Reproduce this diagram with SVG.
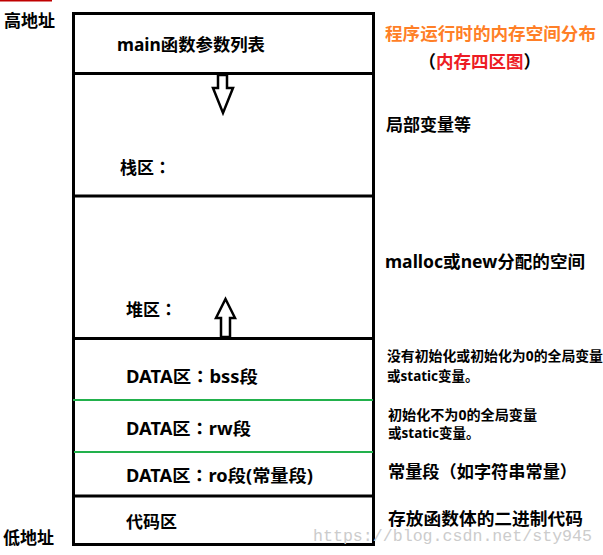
<svg xmlns="http://www.w3.org/2000/svg" width="603" height="555" viewBox="0 0 603 555">
<style>
.t{font-family:"Noto Sans","Noto Sans CJK SC",sans-serif;font-weight:bold;fill:#000;}
.l{font-size:17px;}
.s{font-size:13.5px;}
.c{font-family:"Noto Sans CJK TC","Noto Sans CJK SC",sans-serif;}
.blk{stroke:#000;stroke-width:3;fill:none;}
.grn{stroke:#22b14c;stroke-width:2;fill:none;}
.arr{fill:#fff;stroke:#000;stroke-width:2.5;stroke-linejoin:miter;}
</style>
<rect width="603" height="555" fill="#fff"/>
<rect x="0" y="0" width="52" height="1.5" fill="#c00000"/>
<g id="labels-address">
<text class="t l" x="4" y="27">高地址</text>
<text class="t l" x="3" y="544">低地址</text>
</g>
<g id="frame">
<rect class="blk" x="73.5" y="13.5" width="300" height="531"/>
</g>
<g id="node-main">
<text class="t l" x="117" y="51" textLength="148" lengthAdjust="spacingAndGlyphs">main函数参数列表</text>
</g>
<g id="node-stack">
<line class="blk" x1="73.5" y1="73.5" x2="373.5" y2="73.5"/>
<text class="t l" x="120" y="174">栈区<tspan class="c">：</tspan></text>
</g>
<g id="node-heap">
<line class="blk" x1="73.5" y1="196" x2="373.5" y2="196"/>
<text class="t l" x="126" y="316">堆区<tspan class="c">：</tspan></text>
</g>
<g id="node-bss">
<line class="blk" x1="73.5" y1="338.5" x2="373.5" y2="338.5"/>
<text class="t l" x="126" y="383" textLength="132" lengthAdjust="spacingAndGlyphs">DATA区<tspan class="c">：</tspan>bss段</text>
</g>
<g id="node-rw">
<line class="grn" x1="73" y1="400" x2="373" y2="400"/>
<text class="t l" x="126" y="435" textLength="125" lengthAdjust="spacingAndGlyphs">DATA区<tspan class="c">：</tspan>rw段</text>
</g>
<g id="node-ro">
<line class="grn" x1="74" y1="452" x2="373" y2="452"/>
<text class="t l" x="126" y="482" textLength="187" lengthAdjust="spacingAndGlyphs">DATA区<tspan class="c">：</tspan>ro段(常量段)</text>
</g>
<g id="node-code">
<line class="blk" x1="73.5" y1="496" x2="373.5" y2="496"/>
<text class="t l" x="126" y="528">代码区</text>
</g>
<g id="connectors">
<polygon class="arr" points="218,75 227,75 227,88 233,88 223,113 213,88 218,88"/>
<polygon class="arr" points="221,337 230,337 230,318 235,318 225.5,299 216,318 221,318"/>
</g>
<g id="notes">
<text class="t" style="font-size:17.5px;fill:#ff7f27" x="385" y="40" textLength="211" lengthAdjust="spacingAndGlyphs">程序运行时的内存空间分布</text>
<text class="t" style="font-size:17.5px" x="418.5" y="68"><tspan class="c">（</tspan><tspan fill="#ed1c24">内存四区图</tspan><tspan class="c">）</tspan></text>
<text class="t l" x="386" y="131">局部变量等</text>
<text class="t l" x="385" y="268" textLength="200" lengthAdjust="spacingAndGlyphs">malloc或new分配的空间</text>
<text class="t s" x="387" y="360.5" textLength="216" lengthAdjust="spacingAndGlyphs">没有初始化或初始化为0的全局变量</text>
<text class="t s" x="387" y="381">或static变量。</text>
<text class="t s" x="388" y="420" textLength="149" lengthAdjust="spacingAndGlyphs">初始化不为0的全局变量</text>
<text class="t s" x="388" y="438">或static变量。</text>
<text class="t l" x="388" y="478" textLength="189" lengthAdjust="spacingAndGlyphs">常量段<tspan class="c">（</tspan>如字符串常量<tspan class="c">）</tspan></text>
<text class="t l" x="388" y="525" textLength="195" lengthAdjust="spacingAndGlyphs">存放函数体的二进制代码</text>
</g>
<text x="313" y="541" style="font-family:'Liberation Mono',monospace;font-size:16.6px;fill:#cccccc" textLength="279" lengthAdjust="spacingAndGlyphs">https://blog.csdn.net/sty945</text>
</svg>
